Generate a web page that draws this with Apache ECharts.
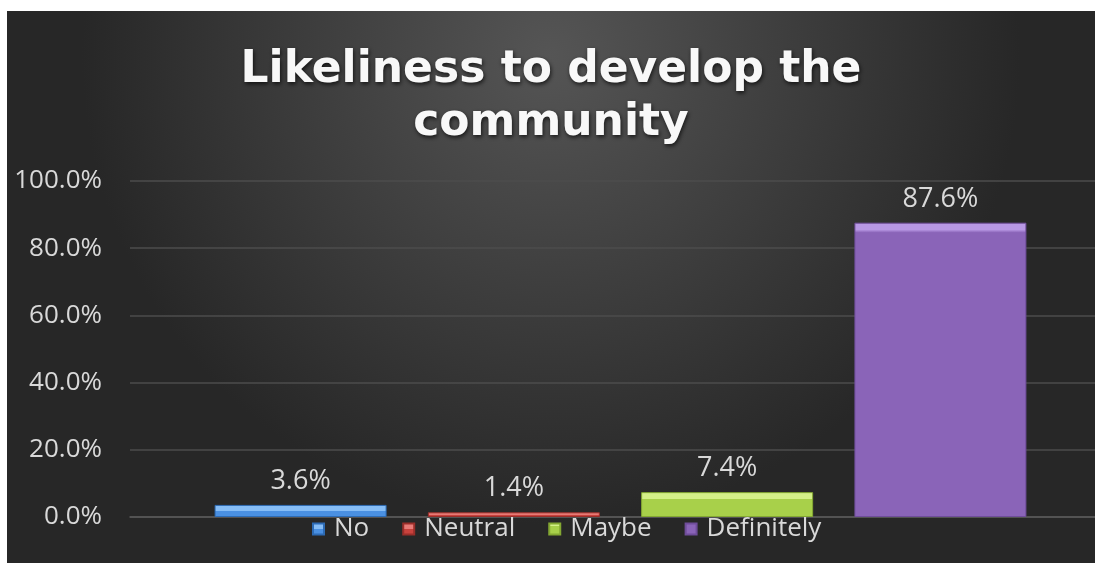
<!DOCTYPE html>
<html><head><meta charset="utf-8">
<script src="https://cdn.jsdelivr.net/npm/echarts@6/dist/echarts.min.js"></script>
<style>
html,body{margin:0;padding:0;background:#fff;width:1095px;height:563px;overflow:hidden}
#c{position:absolute;left:7px;top:11px;width:1088px;height:552px}
</style></head><body>
<div id="c"></div>
<script>
const titleText = 'Likeliness to develop the\ncommunity';
const categories = ['Likeliness'];
const seriesNames = ['No', 'Neutral', 'Maybe', 'Definitely'];
const seriesValues = [3.6, 1.4, 7.4, 87.6];
const yTicks = [0, 20, 40, 60, 80, 100];

const colors = [
  ['#86bdf6', '#4a90e2', '#2d6bb5'],
  ['#e87a76', '#c8423d', '#9a2e2a'],
  ['#d4f088', '#a8d04a', '#84a832'],
  ['#b898e4', '#8a64b8', '#6f4d9a']
];

const plotHeightPx = 336;
const chart = echarts.init(document.getElementById('c'));
const series = seriesNames.map((n, i) => {
  const hPx = seriesValues[i] / 100 * plotHeightPx;
  const bev = Math.min(0.5, 7 / hPx);
  return {
    name: n,
    type: 'bar',
    data: [seriesValues[i]],
    barWidth: 172,
    barGap: '24%',
    itemStyle: {
      color: {type:'linear', x:0, y:0, x2:0, y2:1, colorStops:[
        {offset:0, color: colors[i][0]},
        {offset:bev, color: colors[i][0]},
        {offset:Math.min(1, bev + 0.01), color: colors[i][1]},
        {offset:1, color: colors[i][1]}
      ]},
      borderColor: colors[i][2],
      borderWidth: 1
    },
    label: {
      show: true, position: 'top', distance: 10,
      color: '#d9d9d9', fontSize: 27, fontFamily: 'Open Sans',
      formatter: p => p.value.toFixed(1) + '%'
    }
  };
});

chart.setOption({
  animation: false,
  backgroundColor: {type:'radial', x:0.5, y:0.08, r:0.85, colorStops:[
    {offset:0, color:'#555555'}, {offset:1, color:'#272727'}
  ]},
  title: {
    text: titleText, left: 'center', top: 28,
    textStyle: {color:'#f8f8f8', fontSize: 44, fontWeight:'bold', fontFamily:'DejaVu Sans',
      lineHeight: 53, textShadowColor:'rgba(0,0,0,0.7)', textShadowBlur:4, textShadowOffsetX:1, textShadowOffsetY:2}
  },
  legend: {
    data: seriesNames, left: 300, top: 500,
    itemWidth: 11, itemHeight: 11, itemGap: 33, icon: 'rect',
    textStyle: {color:'#d9d9d9', fontSize: 26, fontFamily:'Open Sans', padding:[0,0,0,5]}
  },
  grid: {left: 123, top: 170, width: 981, bottom: 46, outerBoundsMode: 'none', containLabel: false},
  xAxis: {type:'category', data: categories,
    axisLine:{show:true, lineStyle:{color:'#5a5a5a', width:1.5}}, axisTick:{show:false}, axisLabel:{show:false}},
  yAxis: {type:'value', min: yTicks[0], max: yTicks[yTicks.length-1], interval: 20,
    axisLine:{show:false}, axisTick:{show:false},
    axisLabel:{color:'#d9d9d9', fontSize:26, fontFamily:'Open Sans', margin: 28,
      formatter: v => v.toFixed(1) + '%'},
    splitLine:{lineStyle:{color:'#4c4c4c', width:1.5}}},
  series: series
});
</script>
</body></html>
